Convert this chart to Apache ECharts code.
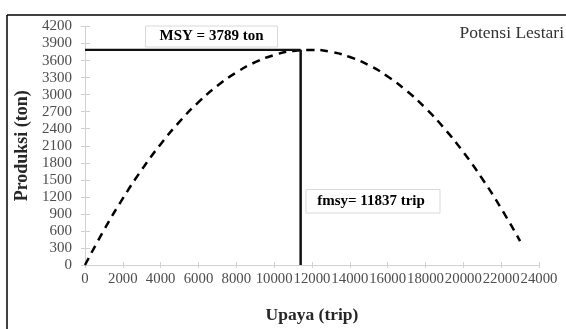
<!DOCTYPE html>
<html>
<head>
<meta charset="utf-8">
<script src="https://cdn.jsdelivr.net/npm/echarts@6/dist/echarts.min.js"></script>
<style>
html,body{margin:0;padding:0;background:#fff;}
#c{width:566px;height:329px;}
</style>
</head>
<body>
<div id="c"></div>
<script>
// Effort (trip) and production (ton)
const effort = [0,1000,2000,3000,4000,5000,6000,7000,8000,9000,10000,11000,12000,13000,14000,15000,16000,17000,18000,19000,20000,21000,22000,23000];
const production = [0,613,1172,1677,2128,2525,2868,3156,3391,3572,3698,3770,3788,3753,3663,3519,3321,3068,2763,2403,1988,1519,997,421];
// MSY guide lines (drawn position on the picture)
const msyValue = 3789;
const fmsyDrawn = 11400;
const msyText = 'MSY = 3789 ton';
const fmsyText = 'fmsy= 11837 trip';
const xTicks = {min:0, max:24000, interval:2000};
const yTicks = {min:0, max:4200, interval:300};

const chart = echarts.init(document.getElementById('c'), null, {renderer:'canvas'});
const serif = '"Liberation Serif", "Times New Roman", serif';
const axisGray = '#d0d0d0';
const labelGray = '#4d4d4d';
const plain = v => String(v);

const baseX = {type:'value', min:xTicks.min, max:xTicks.max, interval:xTicks.interval,
  axisLine:{show:true, lineStyle:{color:axisGray, width:1}}, splitLine:{show:false}};
const baseY = {type:'value', min:yTicks.min, max:yTicks.max, interval:yTicks.interval,
  axisLine:{show:true, lineStyle:{color:axisGray, width:1}}, splitLine:{show:false}};

chart.setOption({
  animation:false,
  backgroundColor:'#fff',
  grid:{left:85, right:27, top:26.5, bottom:61, containLabel:false},
  xAxis:[
    Object.assign({}, baseX, {position:'bottom',
      axisTick:{show:true, inside:false, length:3, lineStyle:{color:axisGray}},
      axisLabel:{show:true, interval:0, hideOverlap:false, formatter:plain, color:labelGray, fontFamily:serif, fontSize:14.8, margin:7},
      name:'Upaya (trip)', nameLocation:'middle', nameGap:41,
      nameTextStyle:{fontFamily:serif, fontWeight:'bold', fontSize:17.5, color:'#262626'}}),
    Object.assign({}, baseX, {position:'bottom', offset:0,
      axisTick:{show:true, inside:true, length:3, lineStyle:{color:axisGray}},
      axisLabel:{show:false}})
  ],
  yAxis:[
    Object.assign({}, baseY, {position:'left',
      axisTick:{show:true, inside:false, length:4, lineStyle:{color:axisGray}},
      axisLabel:{show:true, formatter:plain, color:labelGray, fontFamily:serif, fontSize:15, margin:13},
      name:'Produksi (ton)', nameLocation:'middle', nameGap:49, nameRotate:90,
      nameTextStyle:{fontFamily:serif, fontWeight:'bold', fontSize:18, color:'#262626'}}),
    Object.assign({}, baseY, {position:'left', offset:0,
      axisTick:{show:true, inside:true, length:5, lineStyle:{color:axisGray}},
      axisLabel:{show:false}})
  ],
  series:[
    {type:'line', name:'curve', xAxisIndex:0, yAxisIndex:0,
     data: effort.map((f,i)=>[f, production[i]]),
     smooth:true, showSymbol:false, symbol:'none',
     lineStyle:{color:'#000', width:2.5, type:[8,6]}, z:3},
    {type:'line', name:'msy', xAxisIndex:0, yAxisIndex:0,
     data:[[0,msyValue],[fmsyDrawn,msyValue]], showSymbol:false, symbol:'none',
     lineStyle:{color:'#111', width:2.2}, z:4},
    {type:'line', name:'fmsy', xAxisIndex:0, yAxisIndex:0,
     data:[[fmsyDrawn,msyValue],[fmsyDrawn,0]], showSymbol:false, symbol:'none',
     lineStyle:{color:'#111', width:2.5}, z:4}
  ],
  graphic:[
    {type:'line', shape:{x1:7, y1:15, x2:566, y2:15}, style:{stroke:'#000', lineWidth:1.5}, z:10},
    {type:'line', shape:{x1:7, y1:15, x2:7, y2:329}, style:{stroke:'#000', lineWidth:1.5}, z:10},
    {type:'rect', shape:{x:145.5, y:26, width:132, height:21}, style:{fill:'#fff', stroke:'#d9d9d9', lineWidth:1}, z:20},
    {type:'text', x:211.5, y:36.5, style:{text:msyText, fill:'#000', font:'bold 15px ' + serif, align:'center', verticalAlign:'middle'}, z:21},
    {type:'rect', shape:{x:306, y:189.5, width:134, height:23.5}, style:{fill:'#fff', stroke:'#d9d9d9', lineWidth:1}, z:20},
    {type:'text', x:371, y:201.5, style:{text:fmsyText, fill:'#000', font:'bold 15px ' + serif, align:'center', verticalAlign:'middle'}, z:21},
    {type:'text', x:564, y:33, style:{text:'Potensi Lestari', fill:'#333', font:'17.5px ' + serif, align:'right', verticalAlign:'middle'}, z:21}
  ]
});
</script>
</body>
</html>
